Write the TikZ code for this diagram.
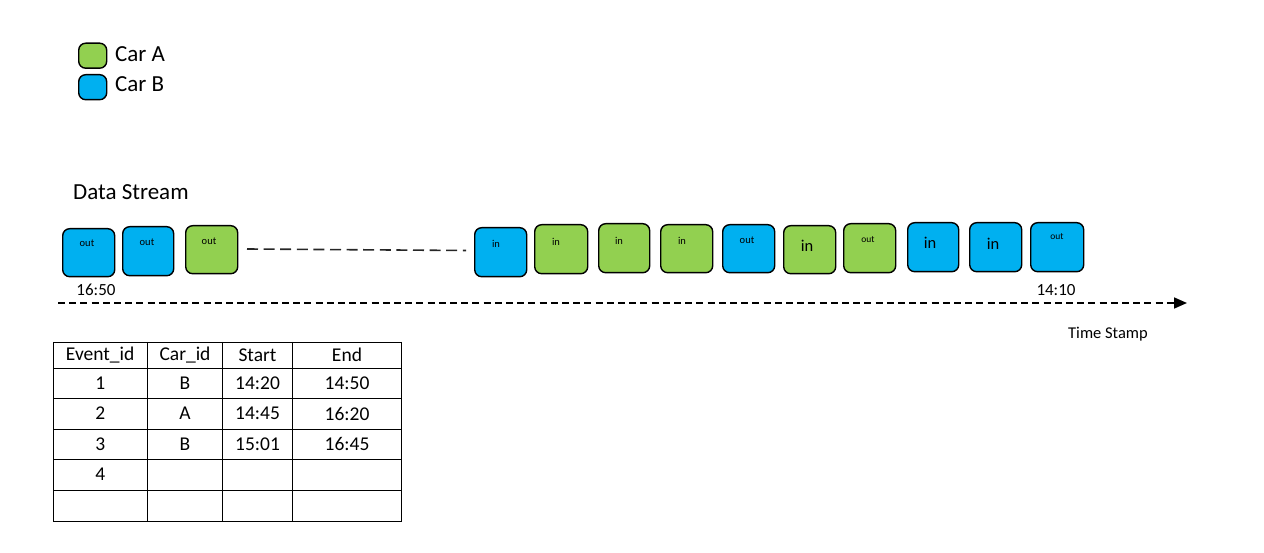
\documentclass[tikz,border=0pt]{standalone}
\usepackage{fontspec}
\setmainfont{Carlito}
\usetikzlibrary{arrows.meta}
\definecolor{carA}{HTML}{92D050}
\definecolor{carB}{HTML}{00B0F0}
\tikzset{
  evbox/.style={draw=black, line width=1.4pt, rounded corners=7pt, inner sep=0pt, anchor=north west},
  smalltxt/.style={font=\fontsize{9.5}{11}\selectfont, inner sep=0pt},
  midtxt/.style={font=\fontsize{10.5}{12}\selectfont, inner sep=0pt},
  bigtxt/.style={font=\fontsize{16.5}{18}\selectfont, inner sep=0pt},
  lbl/.style={font=\fontsize{23}{27}\selectfont, inner sep=0pt, anchor=west},
  timetxt/.style={font=\fontsize{17}{20}\selectfont, inner sep=0pt},
  tbl/.style={font=\fontsize{19.5}{23}\selectfont, inner sep=0pt},
  tline/.style={line width=0.8pt},
}
\newcommand{\evb}[6]{% name, color, x1, y1, x2, y2
  \node[evbox, fill=#2, minimum width=#5pt-#3pt, minimum height=#6pt-#4pt] (#1) at (#3,#4) {};}
\begin{document}
\begin{tikzpicture}[x=1pt,y=-1pt]
\useasboundingbox (0,0) rectangle (1264,553);
% legend
\node[evbox, fill=carA, minimum width=28pt, minimum height=25pt] (legA) at (78,42.5) {};
\node[evbox, fill=carB, minimum width=28pt, minimum height=25pt] (legB) at (78,74) {};
\node[lbl] (legAt) at (115,54) {Car A};
\node[lbl] (legBt) at (115,84) {Car B};
\node[lbl] (ds) at (73,192) {Data Stream};
% boxes
\evb{b1}{carB}{62}{228}{114}{276}
\evb{b2}{carB}{122}{226}{173}{275}
\evb{b3}{carA}{185}{225}{237}{273}
\evb{b4}{carB}{474}{227}{526}{276}
\evb{b5}{carA}{534}{224}{587}{273}
\evb{b6}{carA}{598}{223}{649}{272}
\evb{b7}{carA}{660}{224}{712}{272}
\evb{b8}{carB}{722}{224}{774}{272}
\evb{b9}{carA}{783}{225}{835}{273}
\evb{b10}{carA}{843}{223}{895}{272}
\evb{b11}{carB}{907}{222}{958}{271}
\evb{b12}{carB}{969}{222}{1021}{271}
\evb{b13}{carB}{1030}{222}{1083}{271}
% labels
\node[midtxt] (t1) at (87,243) {out};
\node[midtxt] (t2) at (147,242.5) {out};
\node[midtxt] (t3) at (209,241.5) {out};
\node[midtxt] (t4) at (496,243.5) {in};
\node[midtxt] (t5) at (556,241.5) {in};
\node[midtxt] (t6) at (619,240.5) {in};
\node[midtxt] (t7) at (682,240.5) {in};
\node[midtxt] (t8) at (747,240.5) {out};
\node[bigtxt] (t9) at (807,246) {in};
\node[smalltxt] (t10) at (868,240) {out};
\node[bigtxt] (t11) at (930,243) {in};
\node[bigtxt] (t12) at (993,243.5) {in};
\node[smalltxt] (t13) at (1057,237) {out};
% dashed gap line
\coordinate (g1) at (247,249);
\coordinate (g2) at (466,250.5);
\draw[line width=1.6pt, dash pattern=on 11pt off 5.6pt, draw=black!85] (g1) -- (g2);
% times
\node[timetxt] (tstart) at (96,290) {16:50};
\node[timetxt] (tend) at (1056,290) {14:10};
% timeline
\coordinate (a1) at (58,303);
\coordinate (a2) at (1187,303);
\draw[line width=1.6pt, dash pattern=on 7pt off 4.2pt, -{Triangle[length=13pt,width=11pt]}] (a1) -- (a2);
\node[font=\fontsize{16.5}{19}\selectfont, inner sep=0pt] (ts) at (1108,334) {Time Stamp};
% table
\foreach \y in {342,368,398.5,429,459.5,490,521} \draw[tline] (53,\y) -- (401.5,\y);
\foreach \x in {53,147.5,222.5,292.5,401.5} \draw[tline] (\x,342) -- (\x,521);
\node[tbl] (h1) at (100.2,355) {Event\_id};
\node[tbl] (h2) at (185,355) {Car\_id};
\node[tbl] (h3) at (257.5,355) {Start};
\node[tbl] (h4) at (347,355) {End};
\node[tbl] (r11) at (100.2,383) {1};
\node[tbl] (r12) at (185,383) {B};
\node[tbl] (r13) at (257.5,383) {14:20};
\node[tbl] (r14) at (347,383) {14:50};
\node[tbl] (r21) at (100.2,413.5) {2};
\node[tbl] (r22) at (185,413.5) {A};
\node[tbl] (r23) at (257.5,413.5) {14:45};
\node[tbl] (r24) at (347,413.5) {16:20};
\node[tbl] (r31) at (100.2,444) {3};
\node[tbl] (r32) at (185,444) {B};
\node[tbl] (r33) at (257.5,444) {15:01};
\node[tbl] (r34) at (347,444) {16:45};
\node[tbl] (r41) at (100.2,474.5) {4};
\end{tikzpicture}
\end{document}
